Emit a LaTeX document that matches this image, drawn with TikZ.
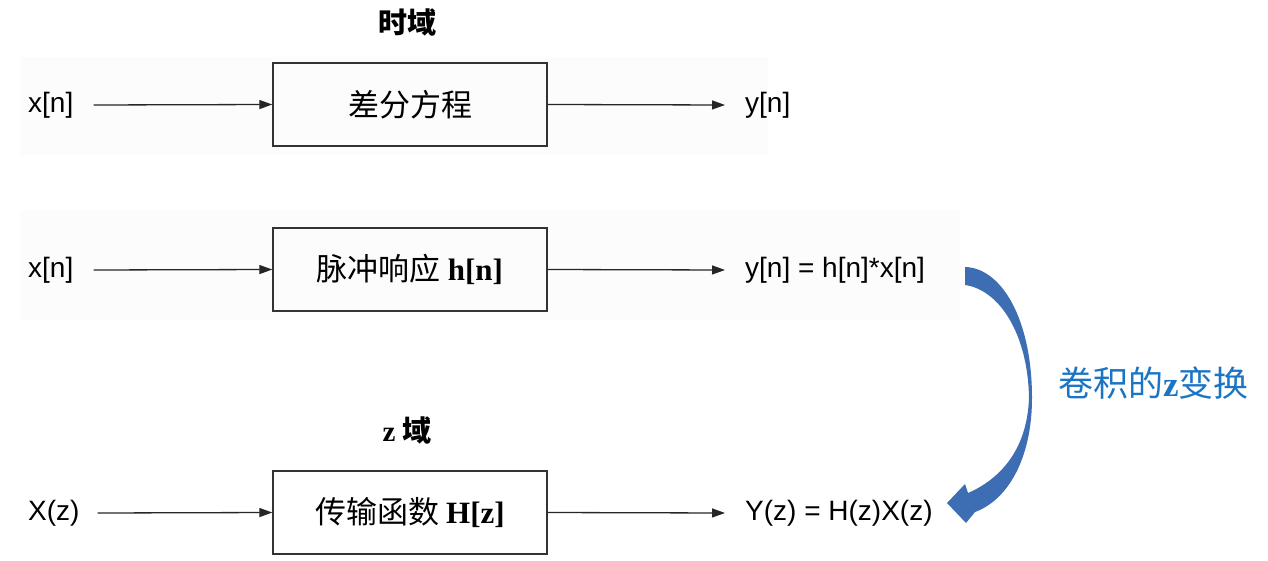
\documentclass[tikz,border=0pt]{standalone}
\usepackage{fontspec}
\setmainfont{Liberation Sans}
\newfontfamily\cjk{Noto Sans CJK SC}
\newfontfamily\tnr{Liberation Serif}
\usetikzlibrary{arrows.meta}
\definecolor{arrowblue}{HTML}{3D6DB3}
\definecolor{textblue}{HTML}{1B75C4}
\definecolor{boxgray}{HTML}{333333}
\definecolor{bggray}{HTML}{FCFCFC}

\tikzset{
  sysbox/.style={draw=boxgray, line width=1.4pt, minimum width=274pt, minimum height=83pt,
    inner sep=0pt, font=\cjk\fontsize{31}{34}\selectfont},
  sig/.style={draw=black!85, line width=1.3pt, -{Triangle[length=13pt,width=9pt]}},
  lbl/.style={inner sep=0pt, anchor=west, font=\fontsize{28}{31}\selectfont},
  domtitle/.style={inner sep=0pt, font=\cjk\bfseries\fontsize{29}{32}\selectfont},
}

\begin{document}
\begin{tikzpicture}[x=1pt,y=-1pt]
  \useasboundingbox (0,0) rectangle (1268,561);

  % 浅灰背景
  \fill[bggray] (20,57) rectangle (768,155);
  \fill[bggray] (20,210) rectangle (960,320);

  % 时域: 差分方程
  \node[domtitle] (tdom) at (407,22) {时域};
  \node[sysbox] (diffeq) at (410,104.5) {差分方程};
  \node[lbl] (xn1) at (28,105) {x[n]};
  \node[lbl] (yn1) at (745,105) {y[n]};
  \draw[sig] ([xshift=20pt]xn1.east) -- (diffeq.west);
  \draw[sig] (diffeq.east) -- ([xshift=-20pt]yn1.west);

  % 时域: 脉冲响应
  \node[sysbox] (impulse) at (410,269.5) {脉冲响应 {\tnr\bfseries h[n]}};
  \node[lbl] (xn2) at (28,270) {x[n]};
  \node[lbl] (yn2) at (745,270) {y[n] = h[n]*x[n]};
  \draw[sig] ([xshift=20pt]xn2.east) -- (impulse.west);
  \draw[sig] (impulse.east) -- ([xshift=-20pt]yn2.west);

  % z 域: 传输函数
  \node[domtitle] (zdom) at (407,430) {{\tnr\bfseries z} 域};
  \node[sysbox] (transfer) at (410,512.5) {传输函数 {\tnr\bfseries H[z]}};
  \node[lbl] (xz) at (28,513) {X(z)};
  \node[lbl] (yz) at (745,513) {Y(z) = H(z)X(z)};
  \draw[sig] ([xshift=18pt]xz.east) -- (transfer.west);
  \draw[sig] (transfer.east) -- ([xshift=-20pt]yz.west);

  % 弯箭头
  \fill[arrowblue] (965,267) .. controls (1002,268) and (1032,320) .. (1032,398)
    .. controls (1032,458) and (1008,500) .. (975,512) -- (966,523) -- (947,503)
    -- (965,484) -- (968,493) .. controls (998,480) and (1027,452) .. (1029,398)
    .. controls (1028,335) and (1000,290) .. (965,285) -- cycle;
  \node[inner sep=0pt, anchor=west, text=textblue, font=\cjk\fontsize{35}{38}\selectfont]
    (ztrans) at (1058,383) {卷积的{\tnr\bfseries z}变换};
\end{tikzpicture}
\end{document}
